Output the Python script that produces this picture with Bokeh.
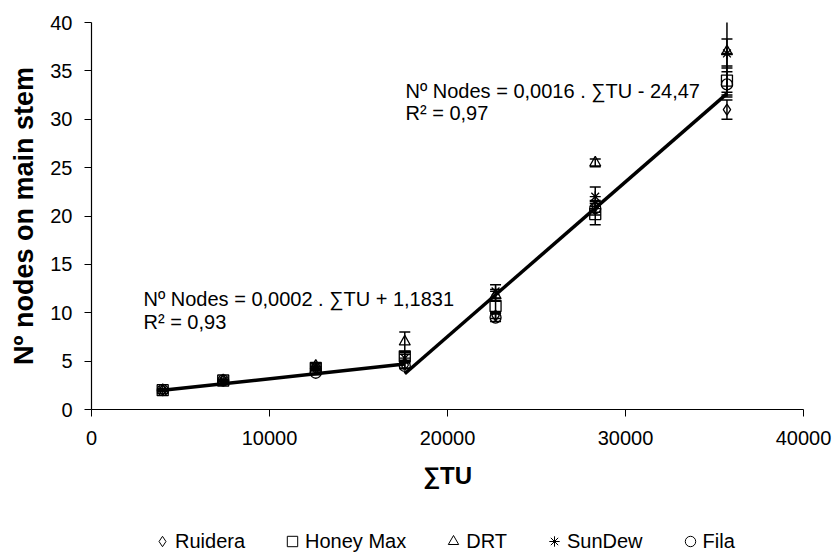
from bokeh.plotting import figure
from bokeh.layouts import column
from bokeh.models import (ColumnDataSource, Whisker, Label, Legend, LegendItem,
                          Range1d, SingleIntervalTicker, TeeHead)
from bokeh.embed import file_html
from bokeh.resources import INLINE

# Accumulated thermal units at each sampling date
tu = [4000, 7400, 12600, 17600, 22700, 28300, 35700]

# Mean number of nodes on the main stem per cultivar
ruidera = [2.0, 3.0, 4.2, 4.6, 9.7, 21.0, 31.0]
honey_max = [2.0, 3.0, 4.3, 5.5, 10.7, 20.2, 34.0]
drt = [2.0, 3.0, 4.5, 7.0, 11.8, 25.5, 37.0]
sundew = [2.0, 3.0, 4.4, 5.3, 12.2, 22.0, 36.8]
fila = [2.0, 3.0, 3.8, 4.5, 9.5, 20.8, 33.6]

# Standard errors
ruidera_err = [0.1, 0.1, 0.2, 0.3, 0.3, 0.6, 1.0]
honey_max_err = [0.1, 0.1, 0.2, 0.4, 0.8, 1.1, 1.5]
drt_err = [0.1, 0.1, 0.3, 1.0, 0.6, 0.4, 4.2]
sundew_err = [0.1, 0.1, 0.3, 0.4, 0.7, 1.0, 1.5]
fila_err = [0.1, 0.1, 0.2, 0.3, 0.4, 0.7, 1.3]

# Piecewise linear fits: slope, intercept, TU range
fit1 = (0.0002, 1.1831, 4000, 17600)
fit2 = (0.0016, -24.47, 17600, 35700)

FONT = "Liberation Sans"

p = figure(width=836, height=505, output_backend="svg", toolbar_location=None,
           x_range=Range1d(0, 40000), y_range=Range1d(0, 40),
           min_border_left=91, min_border_right=33, min_border_top=22,
           min_border_bottom=96)
p.outline_line_color = None
p.xgrid.visible = False
p.ygrid.visible = False

# Axes
p.xaxis.ticker = SingleIntervalTicker(interval=10000)
p.yaxis.ticker = SingleIntervalTicker(interval=5)
for ax in (p.xaxis, p.yaxis):
    ax.axis_line_color = "black"
    ax.axis_line_width = 1.2
    ax.major_tick_line_color = "black"
    ax.major_tick_in = 0
    ax.major_tick_out = 7
    ax.minor_tick_line_color = None
    ax.major_label_text_font = FONT
    ax.major_label_text_font_size = "20px"
    ax.major_label_text_color = "black"
    ax.axis_label_text_font = FONT
    ax.axis_label_text_font_style = "bold"
    ax.axis_label_text_color = "black"
p.xaxis.major_label_standoff = 14
p.yaxis.major_label_standoff = 12
p.xaxis.axis_label = "∑TU"
p.yaxis.axis_label = "Nº nodes on main stem"
p.xaxis.axis_label_text_font_size = "24px"
p.yaxis.axis_label_text_font_size = "27px"
p.xaxis.axis_label_standoff = 14
p.yaxis.axis_label_standoff = 8

# Regression segments
for slope, icpt, x0, x1 in (fit1, fit2):
    xs = [x0, x1]
    p.line(xs, [slope * v + icpt for v in xs], line_color="black", line_width=3.5)

series = [
    ("Ruidera", ruidera, ruidera_err, "diamond"),
    ("Honey Max", honey_max, honey_max_err, "square"),
    ("DRT", drt, drt_err, "triangle"),
    ("SunDew", sundew, sundew_err, "asterisk"),
    ("Fila", fila, fila_err, "circle"),
]

# Strip below the chart that carries the legend
leg_fig = figure(width=836, height=50, output_backend="svg", toolbar_location=None,
                 x_axis_type=None, y_axis_type=None, min_border=0,
                 x_range=Range1d(0, 1), y_range=Range1d(0, 1))
leg_fig.outline_line_color = None
leg_fig.xgrid.visible = False
leg_fig.ygrid.visible = False

items = []
for name, vals, errs, marker in series:
    src = ColumnDataSource(dict(
        x=tu, y=vals,
        upper=[v + e for v, e in zip(vals, errs)],
        lower=[v - e for v, e in zip(vals, errs)],
    ))
    w = Whisker(base="x", upper="upper", lower="lower", source=src,
                line_color="black", line_width=1.5,
                upper_head=TeeHead(size=11, line_color="black", line_width=1.5),
                lower_head=TeeHead(size=11, line_color="black", line_width=1.5))
    p.add_layout(w)
    p.scatter("x", "y", source=src, marker=marker, size=11,
              fill_color=None, line_color="black", line_width=1.3)
    # legend key glyph, placed outside the strip's visible range
    r = leg_fig.scatter([5], [5], marker=marker, size=10,
                        fill_color=None, line_color="black", line_width=1.0)
    items.append(LegendItem(label=name, renderers=[r]))

legend = Legend(items=items, orientation="horizontal", location=(58, 1),
                glyph_width=26, glyph_height=26, label_standoff=0, spacing=34,
                padding=0, margin=0, border_line_color=None,
                background_fill_alpha=0,
                label_text_font=FONT, label_text_font_size="20px",
                label_text_color="black")
leg_fig.add_layout(legend, "center")

# Fit equations
eq_style = dict(text_font=FONT, text_font_size="20px", text_color="black",
                text_baseline="middle")
p.add_layout(Label(x=2920, y=11.4, text="Nº Nodes = 0,0002 . ∑TU + 1,1831", **eq_style))
p.add_layout(Label(x=2920, y=9.0, text="R² = 0,93", **eq_style))
p.add_layout(Label(x=17640, y=32.9, text="Nº Nodes = 0,0016  . ∑TU - 24,47", **eq_style))
p.add_layout(Label(x=17640, y=30.6, text="R² = 0,97", **eq_style))

layout = column(p, leg_fig, spacing=0)
open("out.html", "w").write(file_html(layout, INLINE))
